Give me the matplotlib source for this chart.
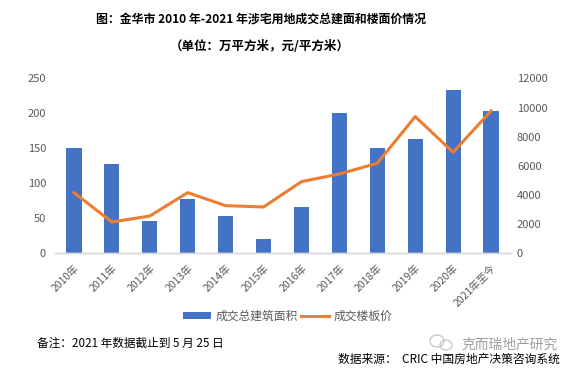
import matplotlib
matplotlib.use('Agg')
import matplotlib.pyplot as plt
from matplotlib.patches import Ellipse
from matplotlib.transforms import ScaledTranslation
import numpy as np

plt.rcParams['font.family'] = ['Noto Sans CJK SC', 'DejaVu Sans']

years = ['2010年', '2011年', '2012年', '2013年', '2014年', '2015年',
         '2016年', '2017年', '2018年', '2019年', '2020年', '2021年至今']
area = [150.5, 127.5, 46, 77.5, 53, 20, 66, 201, 150.5, 163.5, 233.5, 203.5]
price = [4150, 2130, 2545, 4150, 3257, 3165, 4908, 5435, 6170, 9380, 6926, 9770]
left_ticks = [0, 50, 100, 150, 200, 250]
right_ticks = [0, 2000, 4000, 6000, 8000, 10000, 12000]

W, H = 576, 370
grey = '#595959'

fig = plt.figure(figsize=(W / 100, H / 100), dpi=100)
ax = fig.add_axes([55 / W, 1 - 253 / H, 455 / W, 174.5 / H])
ax2 = ax.twinx()

x = np.arange(len(years))
bars = ax.bar(x, area, width=0.4, color='#4472C4', label='成交总建筑面积')
line, = ax2.plot(x, price, color='#ED7D31', linewidth=2.2, label='成交楼板价')

ax.set_xlim(-0.5, 11.5)
ax.set_ylim(0, 250)
ax2.set_ylim(0, 12000)
ax.set_yticks(left_ticks)
ax2.set_yticks(right_ticks)
ax.set_xticks(x)
ax.set_xticklabels(years, rotation=45, ha='right', rotation_mode='anchor',
                   fontsize=7.5, color=grey)
# labels sit a bit left of the tick position
shift = ScaledTranslation(-5 / 100, 0, fig.dpi_scale_trans)
for lab in ax.get_xticklabels():
    lab.set_transform(lab.get_transform() + shift)
ax.tick_params(axis='x', length=0, pad=7)
ax.tick_params(axis='y', length=0, labelsize=8, labelcolor=grey, pad=6.5)
ax2.tick_params(axis='y', length=0, labelsize=8, labelcolor=grey, pad=5)

for a in (ax, ax2):
    for s in ('top', 'left', 'right'):
        a.spines[s].set_visible(False)
    a.spines['bottom'].set_color('#D9D9D9')
    a.spines['bottom'].set_linewidth(1)

fig.legend([bars, line], ['成交总建筑面积', '成交楼板价'], loc='center',
           bbox_to_anchor=(287.5 / W, 1 - 316 / H), ncol=2, frameon=False,
           fontsize=8.5, labelcolor=grey, handlelength=2.4, handleheight=0.6,
           columnspacing=0.3, handletextpad=0.35)

fig.text(260.5 / W, 1 - 20 / H, '图：金华市 2010 年-2021 年涉宅用地成交总建面和楼面价情况',
         ha='center', va='center', fontsize=8.6, fontweight='bold', color='black')
fig.text(260 / W, 1 - 46.5 / H, '（单位：万平方米，元/平方米）',
         ha='center', va='center', fontsize=9, fontweight='bold', color='black')
fig.text(37 / W, 1 - 343 / H, '备注：2021 年数据截止到 5 月 25 日',
         ha='left', va='center', fontsize=8.4, color='black')
fig.text(338 / W, 1 - 359 / H, '数据来源：  CRIC 中国房地产决策咨询系统',
         ha='left', va='center', fontsize=8.5, color='black')

# watermark in the lower right
fig.text(461 / W, 1 - 344 / H, '克而瑞地产研究', ha='left', va='center',
         fontsize=9.9, color='#8C8C8C', alpha=0.85)
fig.add_artist(Ellipse((437 / W, 1 - 341 / H), 14 / W, 12 / H, fill=False,
                       edgecolor='#BDBDBD', linewidth=0.8, transform=fig.transFigure))
fig.add_artist(Ellipse((446 / W, 1 - 345 / H), 12 / W, 10 / H, fill=False,
                       edgecolor='#BDBDBD', linewidth=0.8, transform=fig.transFigure))

fig.savefig('out.png', dpi=100)
